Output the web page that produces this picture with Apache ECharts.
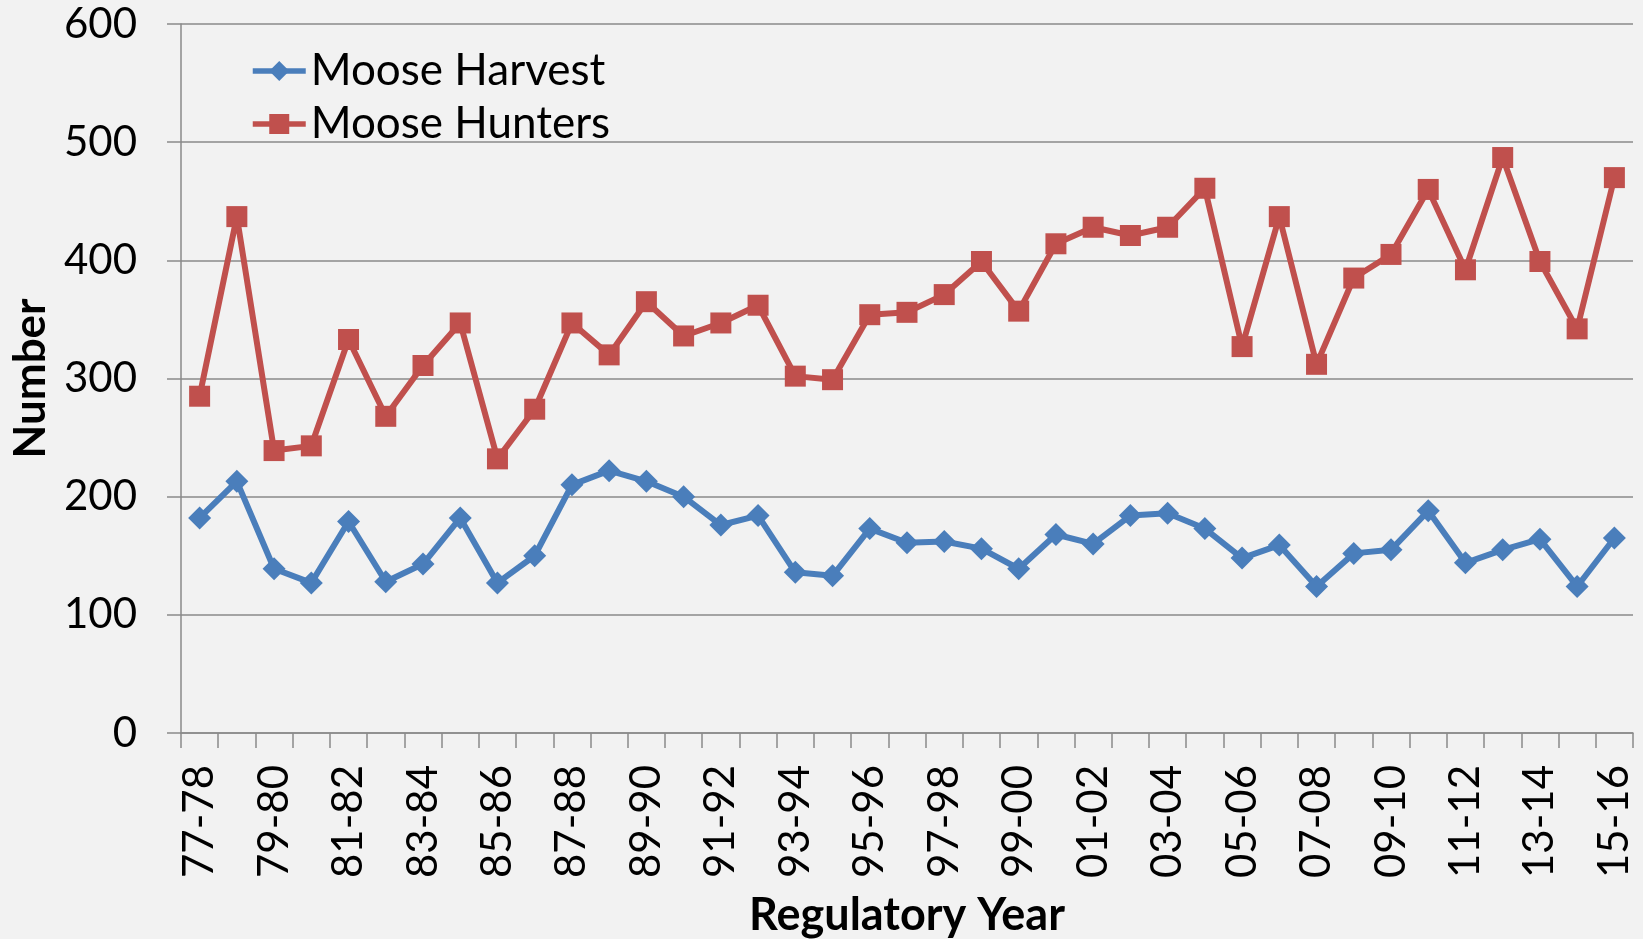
<!DOCTYPE html>
<html>
<head>
<meta charset="utf-8">
<script src="https://cdn.jsdelivr.net/npm/echarts@6/dist/echarts.min.js"></script>
<style>
html,body{margin:0;padding:0;background:#f2f2f2;}
#chart{width:1643px;height:939px;}
</style>
</head>
<body>
<div id="chart"></div>
<script>
const categories = ['77-78','78-79','79-80','80-81','81-82','82-83','83-84','84-85','85-86','86-87',
  '87-88','88-89','89-90','90-91','91-92','92-93','93-94','94-95','95-96','96-97',
  '97-98','98-99','99-00','00-01','01-02','02-03','03-04','04-05','05-06','06-07',
  '07-08','08-09','09-10','10-11','11-12','12-13','13-14','14-15','15-16'];
const mooseHarvest = [182,213,139,127,179,128,143,182,127,150,
  210,222,213,200,176,184,136,133,173,161,
  162,156,139,168,160,184,186,173,148,159,
  124,152,155,188,144,155,164,124,165];
const mooseHunters = [285,437,239,243,333,268,311,347,232,274,
  347,320,365,336,347,362,302,299,354,356,
  371,399,357,414,428,421,428,461,327,437,
  312,385,405,460,392,487,399,342,470];
const yTicks = {min:0, max:600, interval:100};

const chart = echarts.init(document.getElementById('chart'));
const FONT = 'Lato';
chart.setOption({
  backgroundColor:'#f2f2f2',
  animation:false,
  grid:{left:181,right:10,top:24,bottom:206,containLabel:false,outerBoundsMode:'none'},
  legend:{
    orient:'vertical', left:245, top:43,
    itemWidth:53, itemHeight:25, itemGap:7,
    lineStyle:{width:5.5},
    textStyle:{fontFamily:FONT,fontSize:44,color:'#000',lineHeight:46,padding:[0,0,0,0]},
    data:['Moose Harvest','Moose Hunters']
  },
  xAxis:{
    type:'category', data:categories, boundaryGap:true,
    name:'Regulatory Year', nameLocation:'middle', nameGap:160,
    nameTextStyle:{fontFamily:FONT,fontSize:45,fontWeight:'bold',color:'#000'},
    axisLine:{lineStyle:{color:'#8a8a8a',width:1.5}},
    axisTick:{show:true,interval:0,length:15,lineStyle:{color:'#8a8a8a',width:1.5}},
    axisLabel:{interval:1,rotate:90,margin:32,fontFamily:FONT,fontSize:42,color:'#000'}
  },
  yAxis:{
    type:'value', min:yTicks.min, max:yTicks.max, interval:yTicks.interval,
    name:'Number', nameLocation:'middle', nameGap:128,
    nameTextStyle:{fontFamily:FONT,fontSize:44,fontWeight:'bold',color:'#000'},
    axisLine:{show:true,lineStyle:{color:'#8a8a8a',width:1.5}},
    axisTick:{show:true,length:14,lineStyle:{color:'#8a8a8a',width:1.5}},
    axisLabel:{margin:44,fontFamily:FONT,fontSize:42,color:'#000'},
    splitLine:{lineStyle:{color:'#8a8a8a',width:1.5}}
  },
  series:[
    {name:'Moose Harvest',type:'line',data:mooseHarvest,
     symbol:'diamond',symbolSize:23,
     itemStyle:{color:'#4a7ebb'},lineStyle:{color:'#4a7ebb',width:6}},
    {name:'Moose Hunters',type:'line',data:mooseHunters,
     symbol:'rect',symbolSize:21,
     itemStyle:{color:'#c0504d'},lineStyle:{color:'#c0504d',width:6}}
  ]
});
</script>
</body>
</html>
